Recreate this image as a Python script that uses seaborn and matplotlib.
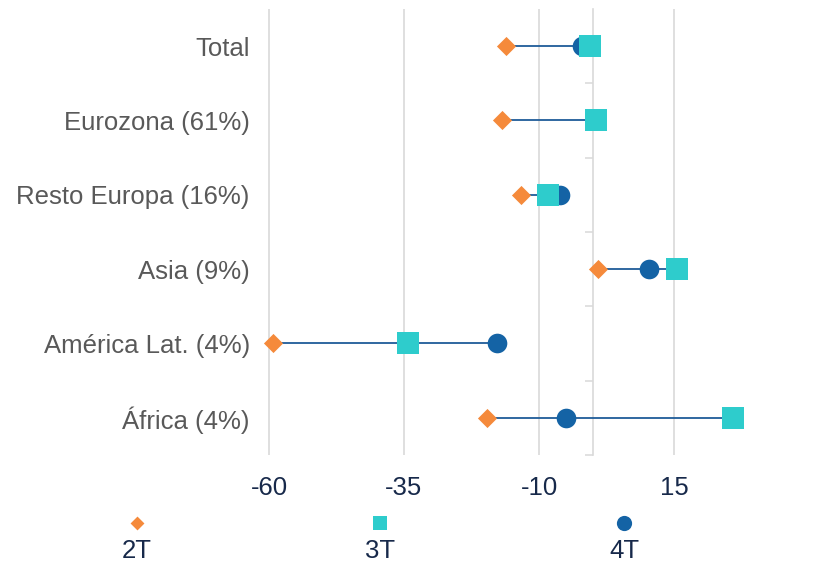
import matplotlib
matplotlib.use("Agg")
import matplotlib.pyplot as plt
import seaborn as sns
import pandas as pd
import numpy as np

# Regions (share of total in brackets) and quarterly values
regions = ["Total", "Eurozona (61%)", "Resto Europa (16%)", "Asia (9%)",
           "América Lat. (4%)", "África (4%)"]
q2 = [-16.1, -16.9, -13.4, 1.0, -59.2, -19.6]
q3 = [-0.5, 0.6, -8.3, 15.6, -34.2, 26.0]
q4 = [-2.0, 0.6, -6.1, 10.4, -17.7, -5.0]
series_names = ["2T", "3T", "4T"]
x_ticks = [-60, -35, -10, 15]

c_orange = "#F58A3B"
c_cyan = "#2ECCCC"
c_blue = "#1463A5"
c_line = "#1F5C99"
c_grid = "#D9D9D9"
c_navy = "#17294A"
c_gray = "#595959"

sns.set_theme(style="white")
plt.rcParams["font.family"] = ["Liberation Sans", "DejaVu Sans"]

df = pd.DataFrame({"region": regions, "2T": q2, "3T": q3, "4T": q4})
long = df.melt(id_vars="region", var_name="serie", value_name="valor")

# 5.4 px per unit, zero at x=593 px
x_lo, x_hi = -62, 35
left_px = 593 + x_lo * 5.4
right_px = 593 + x_hi * 5.4
fig = plt.figure(figsize=(8.23, 5.64), dpi=100)
ax = fig.add_axes([left_px / 823, 1 - 455 / 564, (right_px - left_px) / 823, (455 - 9) / 564])

ypos = np.arange(len(regions))
ax.hlines(ypos, df[series_names].min(axis=1), df[series_names].max(axis=1),
          color=c_line, lw=1.3, zorder=2)

styles = {"2T": ("D", c_orange, 95, 3),
          "4T": ("o", c_blue, 200, 4),
          "3T": ("s", c_cyan, 235, 5)}
for name in ["2T", "4T", "3T"]:
    mk, col, s, z = styles[name]
    sub = long[long["serie"] == name].copy()
    sub["pos"] = sub["region"].map({r: i for i, r in enumerate(regions)})
    sns.scatterplot(data=sub, x="valor", y="pos", marker=mk, color=col, s=s,
                    linewidth=0, ax=ax, zorder=z, legend=False, clip_on=False)

ax.set_xlim(x_lo, x_hi)
ax.set_ylim(len(regions) - 0.5, -0.5)
ax.set_xticks(x_ticks)
ax.set_xticklabels([str(v) for v in x_ticks])
ax.set_yticks(ypos)
ax.set_yticklabels(regions)
ax.set_xlabel("")
ax.set_ylabel("")
ax.grid(axis="x", color=c_grid, lw=1.2, zorder=0)
ax.grid(axis="y", visible=False)
for sp in ax.spines.values():
    sp.set_visible(False)
ax.tick_params(axis="x", length=0, pad=15, labelsize=18.5, labelcolor=c_navy)
ax.tick_params(axis="y", length=0, pad=6, labelsize=18.5, labelcolor=c_gray)

# vertical axis at zero with ticks between categories
sec = ax.secondary_yaxis(0, transform=ax.transData)
sec.set_yticks(np.arange(len(regions)) + 0.5)
sec.set_yticklabels([])
sec.tick_params(axis="y", length=6, width=1.1, color=c_grid, direction="out")
sec.spines["left"].set_color(c_grid)
sec.spines["left"].set_linewidth(1.2)

# legend below the plot, marker above each label
lax = fig.add_axes([0, 0, 1, 1])
lax.set_xlim(0, 823)
lax.set_ylim(564, 0)
lax.axis("off")
leg_x = [137, 380, 624]
leg_style = {"2T": ("D", c_orange, 50), "3T": ("s", c_cyan, 110), "4T": ("o", c_blue, 120)}
for xx, name in zip(leg_x, series_names):
    mk, col, s = leg_style[name]
    lax.scatter([xx], [523], marker=mk, color=col, s=s, linewidths=0)
    lax.text(xx, 551, name, ha="center", va="center", fontsize=18.5, color=c_navy)

fig.savefig("out.png", dpi=100)
